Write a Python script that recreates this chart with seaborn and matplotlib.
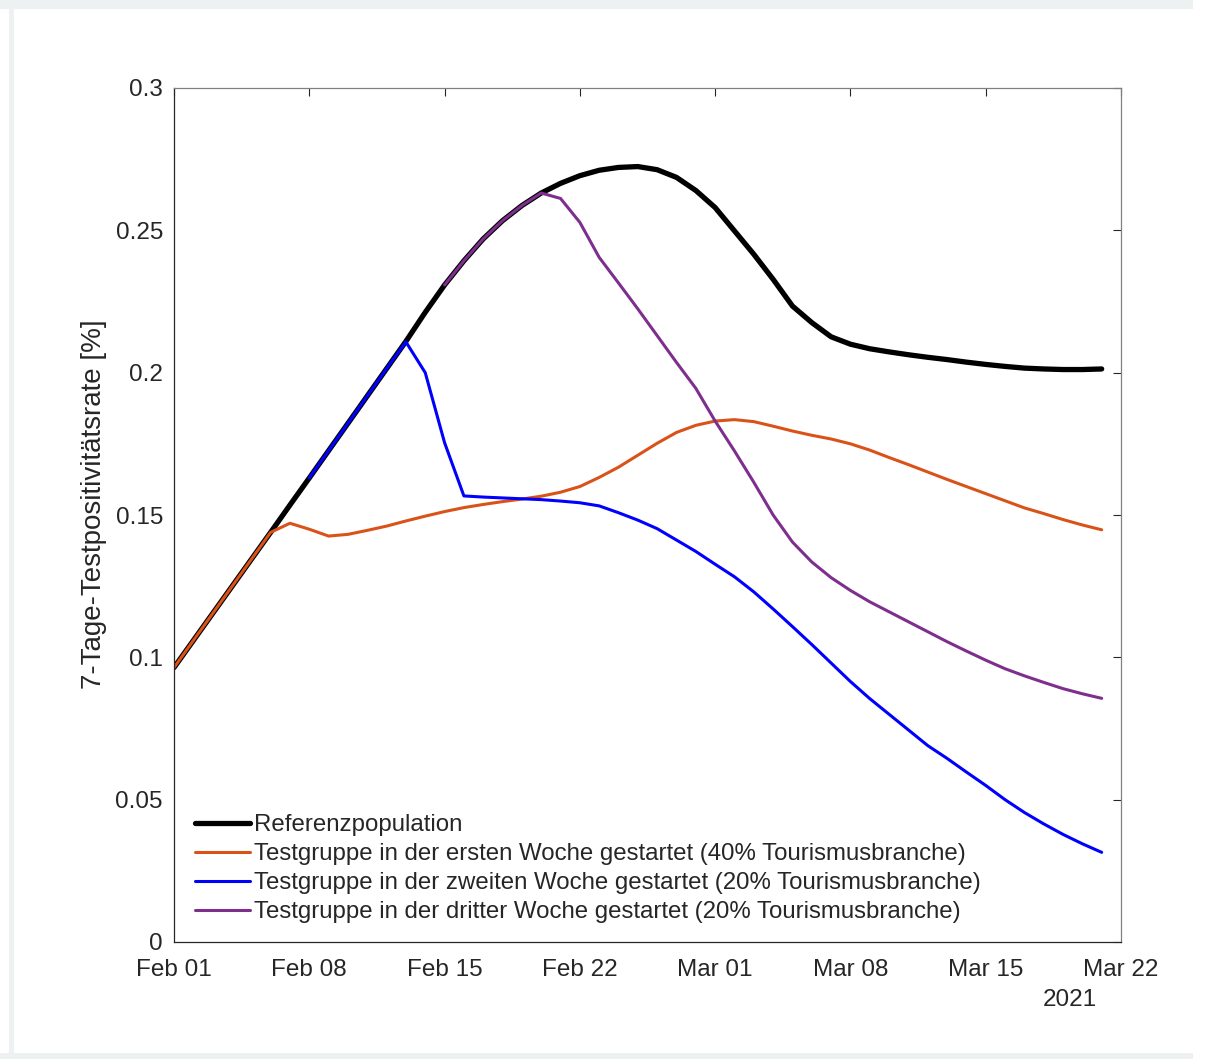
import numpy as np
import pandas as pd
import matplotlib
matplotlib.use('Agg')
import matplotlib.pyplot as plt
import matplotlib.dates as mdates
from matplotlib.ticker import FuncFormatter
from matplotlib.patches import Rectangle
import seaborn as sns

# daily values, Feb 01 .. Mar 21 2021
dates = pd.date_range('2021-02-01', periods=49, freq='D')

referenz = [0.0964, 0.1059, 0.1154, 0.1249, 0.1344, 0.1439, 0.1535, 0.1630,
            0.1726, 0.1822, 0.1918, 0.2014, 0.2110, 0.2212, 0.2308, 0.2393,
            0.2470, 0.2534, 0.2587, 0.2631, 0.2665, 0.2692, 0.2711, 0.2721,
            0.2724, 0.2713, 0.2686, 0.2640, 0.2580, 0.2498, 0.2416, 0.2328,
            0.2234, 0.2176, 0.2126, 0.2100, 0.2084, 0.2073, 0.2063, 0.2054,
            0.2046, 0.2037, 0.2029, 0.2022, 0.2016, 0.2013, 0.2011, 0.2011,
            0.2013]

# starts Feb 01
woche1 = [0.0964, 0.1059, 0.1154, 0.1249, 0.1344, 0.1439, 0.1471, 0.1450,
          0.1426, 0.1432, 0.1446, 0.1461, 0.1479, 0.1496, 0.1512, 0.1526,
          0.1537, 0.1547, 0.1556, 0.1566, 0.1580, 0.1600, 0.1632, 0.1668,
          0.1710, 0.1752, 0.1790, 0.1815, 0.1830, 0.1835, 0.1828, 0.1812,
          0.1795, 0.1780, 0.1767, 0.1750, 0.1728, 0.1702, 0.1677, 0.1651,
          0.1625, 0.1600, 0.1575, 0.1550, 0.1525, 0.1505, 0.1484, 0.1465,
          0.1448]

# starts Feb 08
woche2 = [0.1630, 0.1726, 0.1822, 0.1918, 0.2014, 0.2108, 0.2000, 0.1754,
          0.1567, 0.1563, 0.1560, 0.1557, 0.1554, 0.1549, 0.1543, 0.1532,
          0.1508, 0.1482, 0.1452, 0.1412, 0.1372, 0.1327, 0.1283, 0.1230,
          0.1170, 0.1108, 0.1045, 0.0980, 0.0915, 0.0855, 0.0800, 0.0745,
          0.0690, 0.0645, 0.0597, 0.0550, 0.0500, 0.0455, 0.0415, 0.0378,
          0.0345, 0.0315]

# starts Feb 15
woche3 = [0.2308, 0.2393, 0.2470, 0.2534, 0.2587, 0.2631, 0.2612, 0.2528,
          0.2405, 0.2315, 0.2224, 0.2130, 0.2036, 0.1945, 0.1830, 0.1725,
          0.1615, 0.1500, 0.1405, 0.1335, 0.1280, 0.1235, 0.1195, 0.1160,
          0.1125, 0.1090, 0.1055, 0.1022, 0.0990, 0.0960, 0.0935, 0.0912,
          0.0890, 0.0872, 0.0856]

labels = ['Referenzpopulation',
          'Testgruppe in der ersten Woche gestartet (40% Tourismusbranche)',
          'Testgruppe in der zweiten Woche gestartet (20% Tourismusbranche)',
          'Testgruppe in der dritter Woche gestartet (20% Tourismusbranche)']

sns.set_style('white')
plt.rcParams['font.family'] = ['Liberation Sans', 'DejaVu Sans']

W, H = 1224, 1059
fig = plt.figure(figsize=(W / 100, H / 100), dpi=100)
ax = fig.add_axes([174 / W, 1 - 942 / H, (1121 - 174) / W, (942 - 88) / H])

# screenshot frame
fig.patches.append(Rectangle((0, 1 - 9 / H), 1193 / W, 9 / H, transform=fig.transFigure,
                             facecolor='#eef1f1', edgecolor='none', zorder=-5))
fig.patches.append(Rectangle((9 / W, 0), 5 / W, 1, transform=fig.transFigure,
                             facecolor='#eef1f1', edgecolor='none', zorder=-5))
fig.patches.append(Rectangle((0, 0), 1193 / W, 6 / H, transform=fig.transFigure,
                             facecolor='#eef1f1', edgecolor='none', zorder=-5))

series = [(referenz, 0, 'black', 3.8),
          (woche1, 0, '#D95319', 2.2),
          (woche2, 7, '#0000FF', 2.2),
          (woche3, 14, '#7E2F8E', 2.2)]
for (vals, start, col, lw), lab in zip(series, labels):
    sns.lineplot(x=dates[start:start + len(vals)], y=vals, ax=ax,
                 color=col, linewidth=lw, label=lab)

ax.set_xlim(pd.Timestamp('2021-02-01'), pd.Timestamp('2021-03-22'))
ax.set_ylim(0, 0.3)
ax.set_xticks(pd.date_range('2021-02-01', '2021-03-22', freq='7D'))
ax.xaxis.set_major_formatter(mdates.DateFormatter('%b %d'))
ax.set_yticks(np.arange(0, 0.301, 0.05))
ax.yaxis.set_major_formatter(FuncFormatter(lambda v, p: '{:g}'.format(round(v, 3))))

ax.tick_params(direction='in', top=True, right=True, length=5.8, width=0.8,
               colors='#262626', labelsize=17.5)
ax.tick_params(axis='x', pad=12)
ax.tick_params(axis='y', pad=8)
for side in ['left', 'bottom']:
    ax.spines[side].set_color('#262626')
for side in ['top', 'right']:
    ax.spines[side].set_color('#808080')
for s in ax.spines.values():
    s.set_linewidth(0.9)

ax.set_xlabel('')
ax.set_ylabel('7-Tage-Testpositivitätsrate [%]', fontsize=20, color='#262626')
ax.yaxis.set_label_coords(-0.071, 0.513)

ax.text(0.975, -0.068, '2021', transform=ax.transAxes, ha='right', va='center',
        fontsize=17.5, color='#262626')

handles, labs = ax.get_legend_handles_labels()
ax.legend(handles, labs, loc='lower left', bbox_to_anchor=(0.022, 0.022),
          frameon=False, fontsize=17.3, handlelength=2.29, handletextpad=0.17,
          labelspacing=0.29, borderpad=0, borderaxespad=0)

fig.savefig('out.png', dpi=100)
